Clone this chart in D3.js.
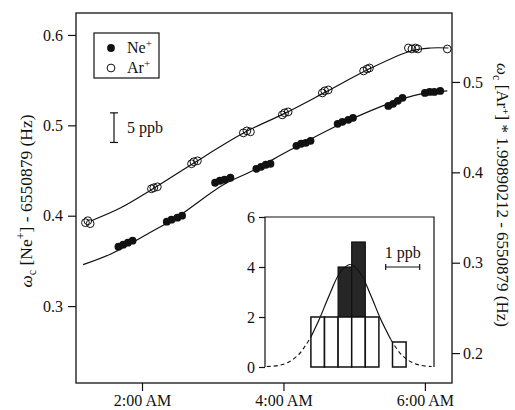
<!DOCTYPE html>
<html><head><meta charset="utf-8">
<script src="https://cdn.jsdelivr.net/npm/d3@7"></script>
<style>
html,body{margin:0;padding:0;background:#fff;}
svg text{font-family:"Liberation Serif","Times New Roman",serif;fill:#111;}
</style></head>
<body><svg id="c" width="515" height="410"></svg>
<script>
// ---- data (times in minutes after midnight) ----
const neTimes  = [100,104,108,112, 141,145,150,154, 182,186,190,195, 217,221,225,229, 251,255,259,263, 286,290,295,299, 329,333,337,341, 360,364,368,373];
const neValues = [0.3657,0.3680,0.3702,0.3724, 0.3934,0.3956,0.3978,0.4000, 0.4365,0.4387,0.4398,0.4420, 0.4519,0.4541,0.4564,0.4575, 0.4773,0.4796,0.4807,0.4829, 0.5017,0.5039,0.5061,0.5083, 0.5215,0.5238,0.5271,0.5304, 0.5359,0.5370,0.5370,0.5381];
const arTimes  = [72,74,76, 128,130,133, 162,164,167, 206,209,212, 239,241,244, 273,275,278, 308,311,313, 346,349,352,354, 379];
const arValues = [0.3443,0.3465,0.3432, 0.3818,0.3829,0.3840, 0.4095,0.4117,0.4128, 0.4437,0.4459,0.4448, 0.4636,0.4658,0.4669, 0.4879,0.4901,0.4912, 0.5122,0.5144,0.5155, 0.5376,0.5365,0.5376,0.5365, 0.5365];
const neFitTimes  = [70,94,128,149,189,212,246,289,331,357,379];
const neFitValues = [0.3459,0.3580,0.3823,0.3978,0.4343,0.4486,0.4729,0.5017,0.5249,0.5348,0.5381];
const arFitTimes  = [77,102,128,163,208,242,276,311,348,365,380];
const arFitValues = [0.3465,0.3608,0.3807,0.4095,0.4448,0.4658,0.4890,0.5133,0.5343,0.5376,0.5376];
const timeTickHours = [2,4,6];
const leftTicks  = [0.3,0.4,0.5,0.6];
const rightTicks = [0.2,0.3,0.4,0.5];
// inset histogram (ppb)
const histEdges = [-1.15,-0.75,-0.35,0.05,0.45,0.85,1.25,1.65];
const histLower = [2,2,2,2,2,0,1];
const histUpper = [0,0,2,3,0,0,0];
const insetTicks = [0,2,4,6];
const fitPpb   = [-2.45,-2.1,-1.8,-1.5,-1.3,-1.15,-0.9,-0.6,-0.3,0,0.3,0.6,0.9,1.2,1.5,1.8,2.1,2.4];
const fitCount = [0.02,0.06,0.2,0.51,0.88,1.2,1.92,2.9,3.76,4.1,3.76,2.9,1.92,1.1,0.51,0.2,0.06,0.02];

const svg = d3.select("#c");
const T = m => new Date(2000,0,1,0,m);
const x  = d3.scaleTime().domain([T(64.9),T(383.7)]).range([76,452]);
const yL = d3.scaleLinear().domain([0.2149,0.6243]).range([383,13]);
const yR = d3.scaleLinear().domain([0.1669,0.5763]).range([383,13]);

// frame
svg.append("rect").attr("x",76).attr("y",13).attr("width",376).attr("height",370)
  .attr("fill","none").attr("stroke","#111").attr("stroke-width",1.3);

const fmt = d3.format(".1f");
const gL = svg.append("g").attr("transform","translate(76,0)")
  .call(d3.axisLeft(yL).tickValues(leftTicks).tickFormat(fmt).tickSize(8).tickPadding(5));
const gR = svg.append("g").attr("transform","translate(452,0)")
  .call(d3.axisRight(yR).tickValues(rightTicks).tickFormat(fmt).tickSize(8).tickPadding(3));
const gB = svg.append("g").attr("transform","translate(0,383)")
  .call(d3.axisBottom(x).tickValues(timeTickHours.map(h=>T(h*60))).tickFormat(d3.timeFormat("%-I:%M %p")).tickSize(8).tickPadding(4));
[gL,gR,gB].forEach(g=>{
  g.select(".domain").remove();
  g.selectAll(".tick line").attr("stroke","#111").attr("stroke-width",1.2);
  g.selectAll(".tick text").attr("font-size",16).attr("fill","#111")
   .style("font-family","'Liberation Serif',serif");
});
gB.selectAll(".tick text").attr("dy","0.68em");

// fit curves
const line = (xs,ys,yS)=>d3.line().curve(d3.curveCatmullRom)(xs.map((t,i)=>[x(T(t)),yS(ys[i])]));
svg.append("path").attr("d",line(neFitTimes,neFitValues,yL)).attr("fill","none").attr("stroke","#111").attr("stroke-width",1.2);
svg.append("path").attr("d",line(arFitTimes,arFitValues,yR)).attr("fill","none").attr("stroke","#111").attr("stroke-width",1.2);

// points
svg.append("g").selectAll("circle").data(neTimes).join("circle")
  .attr("cx",(t)=>x(T(t))).attr("cy",(t,i)=>yL(neValues[i])).attr("r",3.9).attr("fill","#111");
svg.append("g").selectAll("circle").data(arTimes).join("circle")
  .attr("cx",(t)=>x(T(t))).attr("cy",(t,i)=>yR(arValues[i])).attr("r",3.9)
  .attr("fill","none").attr("stroke","#111").attr("stroke-width",1);

// legend
svg.append("rect").attr("x",94).attr("y",33).attr("width",65).attr("height",45)
  .attr("fill","#fff").attr("stroke","#111").attr("stroke-width",1.2);
svg.append("circle").attr("cx",111).attr("cy",48).attr("r",3.9).attr("fill","#111");
svg.append("circle").attr("cx",111).attr("cy",68).attr("r",3.9).attr("fill","none").attr("stroke","#111");
function ion(txt, X, Y){
  const e = svg.append("text").attr("x",X).attr("y",Y).attr("font-size",16);
  e.append("tspan").text(txt);
  e.append("tspan").attr("dy",-6).attr("font-size",11).text("+");
}
ion("Ne",127,53); ion("Ar",127,73);

// 5 ppb scale bar
const barTop = 0.5138, barLen = 5e-9*6550879;
const bx = 114;
svg.append("line").attr("x1",bx).attr("x2",bx).attr("y1",yL(barTop)).attr("y2",yL(barTop-barLen)).attr("stroke","#111").attr("stroke-width",1.2);
[barTop,barTop-barLen].forEach(v=>svg.append("line").attr("x1",bx-4).attr("x2",bx+4).attr("y1",yL(v)).attr("y2",yL(v)).attr("stroke","#111").attr("stroke-width",1.2));
svg.append("text").attr("x",127).attr("y",133).attr("font-size",16).text("5 ppb");

// axis titles
const tl = svg.append("text").attr("transform","translate(32,201) rotate(-90)").attr("text-anchor","middle").attr("font-size",17.5);
tl.append("tspan").attr("font-style","italic").text("ω");
tl.append("tspan").attr("dy",4).attr("font-size",12).text("c");
tl.append("tspan").attr("dy",-4).text(" [Ne");
tl.append("tspan").attr("dy",-7).attr("font-size",12).text("+");
tl.append("tspan").attr("dy",7).text("] - 6550879 (Hz)");
const tr = svg.append("text").attr("transform","translate(497,195) rotate(90)").attr("text-anchor","middle").attr("font-size",17);
tr.append("tspan").attr("font-style","italic").text("ω");
tr.append("tspan").attr("dy",4).attr("font-size",12).text("c");
tr.append("tspan").attr("dy",-4).text(" [Ar");
tr.append("tspan").attr("dy",-5).attr("font-size",11).text("+");
tr.append("tspan").attr("dy",5).text("] * 1.99890212 - 6550879 (Hz)");

// ---- inset ----
const ix = d3.scaleLinear().domain([-2.5,2.5]).range([265,435]);
const iy = d3.scaleLinear().domain([0,6]).range([367,217]);
svg.append("rect").attr("x",265).attr("y",217).attr("width",170).attr("height",150).attr("fill","#fff");
svg.append("path").attr("d",`M265,367V217H434V367`).attr("fill","none").attr("stroke","#111").attr("stroke-width",1.2);
const gI = svg.append("g").attr("transform","translate(265,0)")
  .call(d3.axisLeft(iy).tickValues(insetTicks).tickFormat(d3.format("d")).tickSize(6).tickPadding(4));
gI.select(".domain").remove();
gI.selectAll(".tick line").attr("stroke","#111").attr("stroke-width",1.2);
gI.selectAll(".tick text").attr("font-size",16).attr("fill","#111").style("font-family","'Liberation Serif',serif");

const bins = histLower.map((c,i)=>({x0:histEdges[i],x1:histEdges[i+1],lo:c,up:histUpper[i]}));
svg.append("g").selectAll("rect").data(bins.filter(b=>b.up>0)).join("rect")
  .attr("x",b=>ix(b.x0)).attr("width",b=>ix(b.x1)-ix(b.x0))
  .attr("y",b=>iy(b.lo+b.up)).attr("height",b=>iy(b.lo)-iy(b.lo+b.up))
  .attr("fill","#262626").attr("stroke","#111").attr("stroke-width",1.2);
svg.append("g").selectAll("rect").data(bins.filter(b=>b.lo>0)).join("rect")
  .attr("x",b=>ix(b.x0)).attr("width",b=>ix(b.x1)-ix(b.x0))
  .attr("y",b=>iy(b.lo)).attr("height",b=>iy(0)-iy(b.lo))
  .attr("fill","#fff").attr("stroke","#111").attr("stroke-width",1.5);

// gaussian fit (solid core, dashed tails)
const fitPts = fitPpb.map((p,i)=>[p,fitCount[i]]);
const gl = d3.line().curve(d3.curveCatmullRom).x(d=>ix(d[0])).y(d=>iy(d[1]));
const core = fitPts.filter(d=>d[0]>=-1.15 && d[0]<=1.2);
svg.append("path").attr("d",gl(core)).attr("fill","none").attr("stroke","#111").attr("stroke-width",1.2);
svg.append("path").attr("d",gl(fitPts.filter(d=>d[0]<=-1.15))).attr("fill","none").attr("stroke","#111").attr("stroke-width",1.1).attr("stroke-dasharray","4,3");
svg.append("path").attr("d",gl(fitPts.filter(d=>d[0]>=1.2))).attr("fill","none").attr("stroke","#111").attr("stroke-width",1.1).attr("stroke-dasharray","4,3");

// 1 ppb bar
const p0 = 1.05, p1 = p0+1, py = 4;
svg.append("line").attr("x1",ix(p0)).attr("x2",ix(p1)).attr("y1",iy(py)).attr("y2",iy(py)).attr("stroke","#111").attr("stroke-width",1.2);
[p0,p1].forEach(p=>svg.append("line").attr("x1",ix(p)).attr("x2",ix(p)).attr("y1",iy(py)-3).attr("y2",iy(py)+3).attr("stroke","#111").attr("stroke-width",1.2));
svg.append("text").attr("x",ix(p0+0.5)).attr("y",258).attr("text-anchor","middle").attr("font-size",16).text("1 ppb");
</script></body></html>
